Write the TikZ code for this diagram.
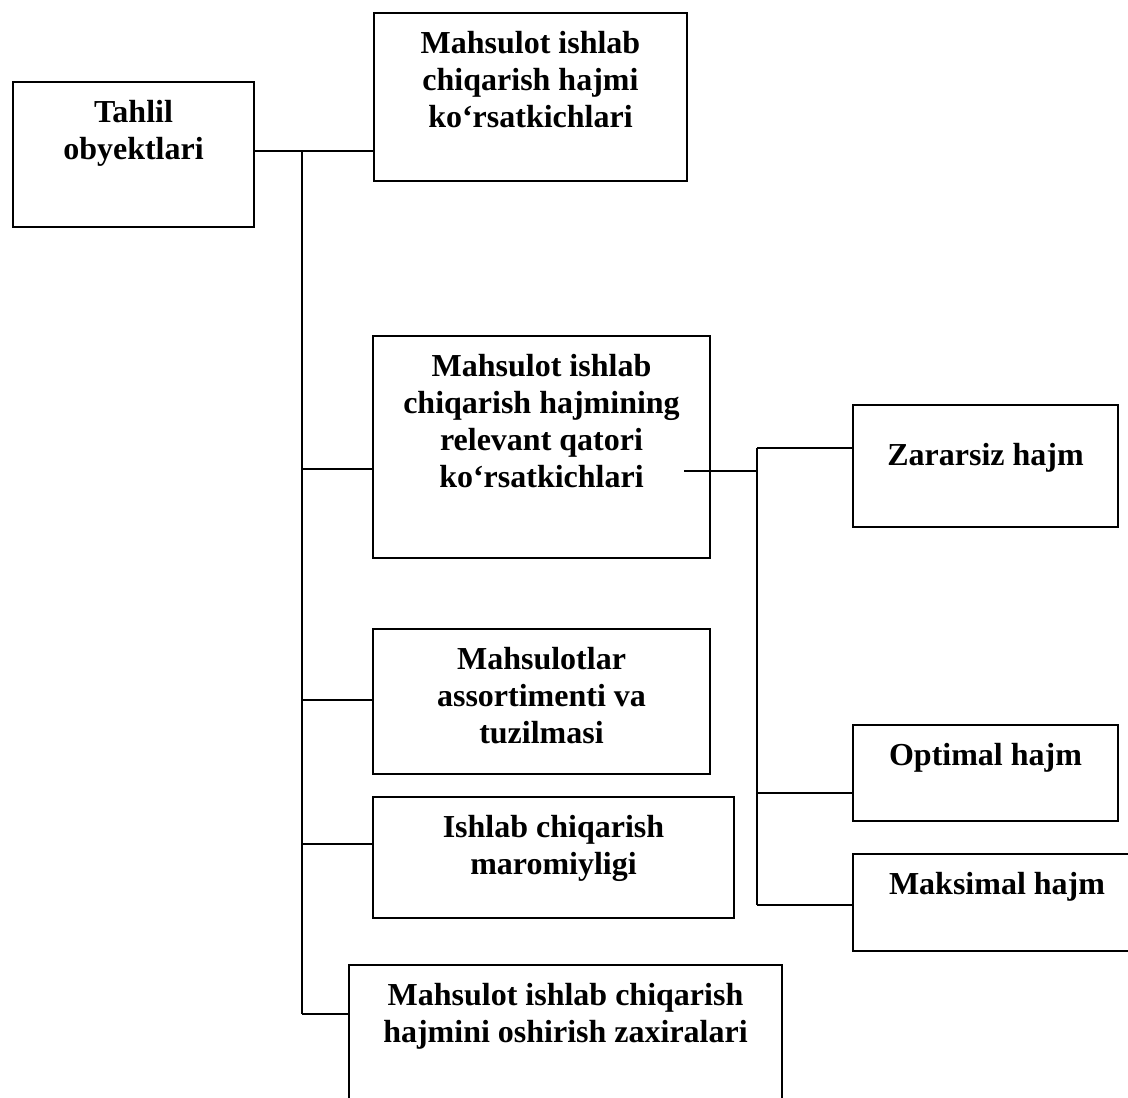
\documentclass[tikz,border=0pt]{standalone}
\usepackage{fontspec}
\setmainfont{Liberation Serif}
\usetikzlibrary{positioning}

\newlength\pxu
\setlength\pxu{0.5pt}
% box text: width, height (px), top gap, lines
\newcommand{\matn}[4]{\parbox[b][#2\pxu][t]{#1\pxu}{\centering\vspace*{#3}\strut #4\par}}

\begin{document}
\begin{tikzpicture}[x=0.5pt, y=-0.5pt]
\tikzstyle{blok}=[draw=black, line width=1pt, inner sep=0pt, anchor=north west,
        font=\bfseries\fontsize{16}{18.6}\selectfont]
\tikzstyle{line}=[-, line width=1pt]

\def \tx {302}
\def \rx {757}

\useasboundingbox (0,0) rectangle (1128,1097);
\clip (0,0) rectangle (1128,1097);

    \node (tahlil) [blok] at (12,81){
            \matn{241}{145}{7pt}{Tahlil\\obyektlari}
    };

    \node (hajm) [blok] at (373,12){
            \matn{313}{168}{7pt}{Mahsulot ishlab\\chiqarish hajmi\\ko‘rsatkichlari}
    };

    \node (relev) [blok] at (372,335){
            \matn{337}{222}{7pt}{Mahsulot ishlab\\chiqarish hajmining\\relevant qatori\\ko‘rsatkichlari}
    };

    \node (assort) [blok] at (372,628){
            \matn{337}{145}{7pt}{Mahsulotlar\\assortimenti va\\tuzilmasi}
    };

    \node (marom) [blok] at (372,796){
            \matn{361}{121}{7pt}{Ishlab chiqarish\\maromiyligi}
    };

    \node (zaxira) [blok] at (348,964){
            \matn{433}{160}{7pt}{Mahsulot ishlab chiqarish\\hajmini oshirish zaxiralari}
    };

    \node (zarar) [blok] at (852,404){
            \matn{265}{122}{17pt}{Zararsiz hajm}
    };

    \node (optim) [blok] at (852,724){
            \matn{265}{96}{7pt}{Optimal hajm}
    };

    \node (maks) [blok] at (852,853){
            \matn{288}{97}{7pt}{Maksimal hajm}
    };

% left trunk
\coordinate (a0) at (\tx,151);
\coordinate (a1) at (\tx,469);
\coordinate (a2) at (\tx,700);
\coordinate (a3) at (\tx,844);
\coordinate (a4) at (\tx,1014);

\draw[line] (tahlil.east |- a0) -- (hajm.west |- a0);
\draw[line] (a0) -- (a4);
\draw[line] (a1) -- (relev.west |- a1);
\draw[line] (a2) -- (assort.west |- a2);
\draw[line] (a3) -- (marom.west |- a3);
\draw[line] (a4) -- (zaxira.west |- a4);

% right trunk
\coordinate (b0) at (684,471);
\coordinate (b1) at (\rx,448);
\coordinate (b2) at (\rx,793);
\coordinate (b3) at (\rx,905);

\draw[line] (b0) -- (b0 -| b1);
\draw[line] (b1) -- (b3);
\draw[line] (b1) -- (zarar.west |- b1);
\draw[line] (b2) -- (optim.west |- b2);
\draw[line] (b3) -- (maks.west |- b3);

\end{tikzpicture}
\end{document}
